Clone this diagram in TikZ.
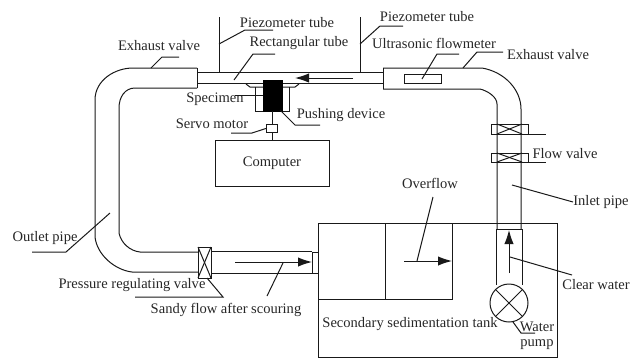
\documentclass[tikz,border=0pt]{standalone}
\usepackage{fontspec}
\setmainfont{Liberation Serif}
\usetikzlibrary{arrows.meta}
\tikzset{
	pipe/.style={line width=0.75pt,black!90},
	leader/.style={line width=0.75pt,black!90},
	tag/.style={inner sep=0pt,font=\fontsize{10.9}{12}\selectfont,text=black!85},
	flow/.style={line width=0.75pt,black!90,-{Latex[length=10.5pt,width=7pt]}}
}
\begin{document}
\begin{tikzpicture}[x=0.75pt,y=-0.75pt]
	\useasboundingbox (0,0) rectangle (640,358);
	
	\node[tag] (exhaustleft) at (159,46){Exhaust valve};
	\node[tag] (piezoleft) at (287,23){Piezometer tube};
	\node[tag] (recttube) at (299,43){Rectangular tube};
	\node[tag] (piezoright) at (427,17){Piezometer tube};
	\node[tag] (flowmeter) at (434,43){Ultrasonic flowmeter};
	\node[tag] (exhaustright) at (548,55){Exhaust valve};
	\node[tag] (specimen) at (215,99){Specimen};
	\node[tag] (pushing) at (341,115){Pushing device};
	\node[tag] (servo) at (212,124){Servo motor};
	\node[tag] (flowvalve) at (565,154){Flow valve};
	\node[tag] (overflow) at (430,183){Overflow};
	\node[tag] (inlet) at (601,202){Inlet pipe};
	\node[tag] (outlet) at (45,238){Outlet pipe};
	\node[tag] (clear) at (596,285){Clear water};
	\node[tag] (pressure) at (132,285){Pressure regulating valve};
	\node[tag] (sandy) at (226,310){Sandy flow after scouring};
	\node[tag] (tanktext) at (410,324){Secondary sedimentation tank};
	\node[tag] (water) at (537,327){Water};
	\node[tag] (pumptext) at (537,345){pump};
	
	% pipe on the left
	\draw[pipe] (197,68) -- (197,88);
	\draw[pipe] (197,68) -- (133,68) .. controls (115,68) and (95,80) .. (95,100) -- (95,237) .. controls (97,255) and (115,270) .. (132,272) -- (198,272);
	\draw[pipe] (197,88) -- (135,88) .. controls (125,88) and (119,97) .. (119,108) -- (119,233) .. controls (121,243) and (130,251) .. (140,252) -- (198,252);
	
	% rectangular tube and pipe on the right
	\draw[pipe] (197,72) -- (383,72);
	\draw[pipe] (197,83) -- (383,83);
	\draw[pipe] (383,68) -- (383,89);
	\draw[pipe] (383,68) -- (482,68) .. controls (505,72) and (521,90) .. (521,109) -- (521,229);
	\draw[pipe] (383,89) -- (480,89) .. controls (488,91) and (497,97) .. (497,104) -- (497,229);
	\draw[pipe] (404,74) rectangle (441,83.5);
	\draw[flow] (353,78) -- (295,78);
	
	% piezometer tubes
	\draw[pipe] (219,17) -- (219,72);
	\draw[pipe] (360,17) -- (360,72);
	
	% specimen and pushing device
	\draw[pipe] (246,84) -- (250,87) -- (295,87) -- (299,84);
	\draw[pipe] (255,87) -- (255,111) -- (289,111) -- (289,87);
	\draw[fill=black] (263,80) rectangle (282,111);
	\node[draw,line width=0.75pt,black!90,minimum width=8.5pt,minimum height=6.5pt,inner sep=0pt] (motor) at (272,128.5){};
	\node[draw,line width=0.75pt,black!90,minimum width=85.5pt,minimum height=34.5pt,inner sep=0pt,font=\fontsize{10.9}{12}\selectfont,text=black!85] (computer) at (272,163){Computer};
	\draw[pipe] (272,111) -- (motor);
	\draw[pipe] (motor) -- (motor|-computer.north);
	
	% flow valves
	\draw[pipe] (491,124) rectangle (528,134);
	\draw[pipe] (497,124) -- (522,134);
	\draw[pipe] (497,134) -- (522,124);
	\draw[pipe] (491,153) rectangle (528,162);
	\draw[pipe] (497,153) -- (522,162);
	\draw[pipe] (497,162) -- (522,153);
	
	% valve, lower pipe
	\draw[pipe] (198,247) rectangle (211,278);
	\draw[pipe] (198,247) -- (211,278);
	\draw[pipe] (198,278) -- (211,247);
	\draw[pipe] (211,251) -- (312,251);
	\draw[pipe] (211,273) -- (312,273);
	\draw[pipe] (312,252) rectangle (318,273);
	\draw[flow] (235,262) -- (312,262);
	
	% tank
	\draw[pipe] (318,223) rectangle (557,357);
	\draw[pipe] (318,299) -- (452,299) -- (452,223);
	\draw[pipe] (385,223) -- (385,299);
	\draw[flow] (404,261) -- (452,261);
	
	% pump
	\draw[pipe] (496,285) -- (496,229) -- (522,229) -- (522,285);
	\node[draw,circle,line width=0.75pt,black!90,fill=white,minimum size=28.5pt,inner sep=0pt] (pump) at (509,303){};
	\draw[pipe] (pump.north east) -- (pump.south west);
	\draw[pipe] (pump.north west) -- (pump.south east);
	\draw[flow] (509,273) -- (509,230);
	
	% leaders
	\draw[leader] (179,57) -- (162,57) -- (151,68);
	\draw[leader] (219,44) -- (245,30) -- (273,30);
	\draw[leader] (234,80) -- (253,54) -- (275,54);
	\draw[leader] (360,44) -- (380,26) -- (403,26);
	\draw[leader] (422,79) -- (437,54) -- (459,54);
	\draw[leader] (463,68) -- (477,52) -- (503,52);
	\draw[leader] (235,95.5) -- (263,95.5);
	\draw[leader] (231,133) -- (252,133) -- (motor.west);
	\draw[leader] (280,110) -- (295,125) -- (320,125);
	\draw[leader] (528,134) -- (546,134);
	\draw[leader] (528,162) -- (546,162);
	\draw[leader] (512,185) -- (573,202);
	\draw[leader] (433,197) -- (417,261);
	\draw[leader] (510,257) -- (572,275);
	\draw[leader] (513,322) -- (521,333) -- (535,333);
	\draw[leader] (32,252) -- (66,252) -- (110,213);
	\draw[leader] (135,297) -- (223,297) -- (207,278);
	\draw[leader] (283,263) -- (267,296);
\end{tikzpicture}
\end{document}
